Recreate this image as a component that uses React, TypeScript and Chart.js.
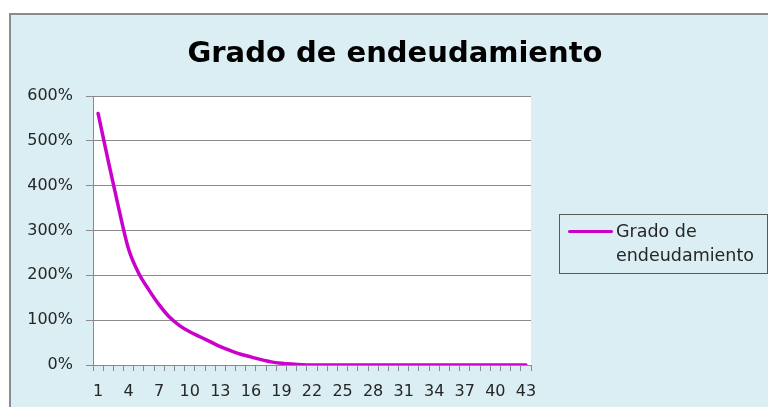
import React, { useEffect, useRef } from 'react';
import { Chart, registerables } from 'chart.js';

Chart.register(...registerables);

const chartTitle = 'Grado de endeudamiento';
const seriesName = 'Grado de endeudamiento';

const categories = [
  '1', '2', '3', '4', '5', '6', '7', '8', '9', '10',
  '11', '12', '13', '14', '15', '16', '17', '18', '19', '20',
  '21', '22', '23', '24', '25', '26', '27', '28', '29', '30',
  '31', '32', '33', '34', '35', '36', '37', '38', '39', '40',
  '41', '42', '43',
];

// percent values
const debtRatio = [
  561, 455, 352, 258, 204, 167, 134, 107, 88, 74,
  63, 52, 41, 32, 24, 18, 12, 7, 4, 2,
  0.5, 0, 0, 0, 0, 0, 0, 0, 0, 0,
  0, 0, 0, 0, 0, 0, 0, 0, 0, 0,
  0, 0, 0,
];

const yMin = 0;
const yMax = 600;
const yStep = 100;
const xLabelEvery = 3;

const LINE_COLOR = '#CC00CC';
const GRID_COLOR = '#8a8a8a';
const TEXT_COLOR = '#262626';
const BG_COLOR = '#DAEEF3';

const whitePlot = {
  id: 'whitePlot',
  beforeDraw(chart: any) {
    const { ctx, chartArea } = chart;
    if (!chartArea) return;
    ctx.save();
    ctx.fillStyle = '#ffffff';
    ctx.fillRect(chartArea.left, chartArea.top, chartArea.right - chartArea.left, chartArea.bottom - chartArea.top);
    ctx.restore();
  },
};

export default function App() {
  const canvasRef = useRef<HTMLCanvasElement | null>(null);

  useEffect(() => {
    const canvas = canvasRef.current;
    if (!canvas) return;
    const chart = new Chart(canvas, {
      type: 'line',
      data: {
        labels: categories,
        datasets: [
          {
            label: seriesName,
            data: debtRatio,
            borderColor: LINE_COLOR,
            backgroundColor: LINE_COLOR,
            borderWidth: 3.5,
            borderCapStyle: 'round',
            borderJoinStyle: 'round',
            pointRadius: 0,
            pointHoverRadius: 0,
            cubicInterpolationMode: 'monotone',
            fill: false,
          },
        ],
      },
      options: {
        responsive: false,
        animation: false,
        devicePixelRatio: 1,
        layout: { padding: { left: 0, top: 96, right: 237, bottom: 0 } },
        plugins: {
          legend: { display: false },
          title: { display: false },
          tooltip: { enabled: false },
        },
        scales: {
          x: {
            type: 'category',
            offset: true,
            afterFit(scale: any) {
              scale.height = 42;
            },
            grid: {
              display: true,
              offset: true,
              drawOnChartArea: false,
              drawTicks: true,
              tickLength: 6,
              color: GRID_COLOR,
            },
            border: { display: true, color: GRID_COLOR, width: 1 },
            ticks: {
              autoSkip: false,
              maxRotation: 0,
              minRotation: 0,
              padding: 11,
              color: TEXT_COLOR,
              font: { family: 'DejaVu Sans', size: 16, lineHeight: 1.2 },
              callback: (_v: any, idx: number) => (idx % xLabelEvery === 0 ? categories[idx] : ''),
            },
          },
          y: {
            min: yMin,
            max: yMax,
            afterFit(scale: any) {
              scale.width = 93;
            },
            grid: {
              color: GRID_COLOR,
              drawTicks: true,
              tickLength: 7,
            },
            border: { display: true, color: GRID_COLOR, width: 1 },
            ticks: {
              stepSize: yStep,
              padding: 13,
              color: TEXT_COLOR,
              font: { family: 'DejaVu Sans', size: 16 },
              callback: (v: any) => `${v}%`,
            },
          },
        },
      },
      plugins: [whitePlot],
    });
    return () => chart.destroy();
  }, []);

  return (
    <div style={{ position: 'fixed', left: 0, top: 0, width: 768, height: 407, overflow: 'hidden', background: '#ffffff' }}>
      <div
        style={{
          position: 'absolute',
          left: 9,
          top: 13,
          width: 800,
          height: 430,
          background: BG_COLOR,
          border: '2px solid #8c8c8c',
          boxSizing: 'border-box',
        }}
      />
      <canvas
        ref={canvasRef}
        width={768}
        height={407}
        style={{ position: 'absolute', left: 0, top: 0, width: 768, height: 407 }}
      />
      <div
        style={{
          position: 'absolute',
          left: 0,
          top: 35,
          width: 790,
          textAlign: 'center',
          fontFamily: '"DejaVu Sans", sans-serif',
          fontWeight: 'bold',
          fontSize: 29,
          lineHeight: '34px',
          color: '#000000',
          whiteSpace: 'nowrap',
        }}
      >
        {chartTitle}
      </div>
      <div
        style={{
          position: 'absolute',
          left: 559,
          top: 214,
          width: 209,
          height: 60,
          border: '1.5px solid #595959',
          boxSizing: 'border-box',
        }}
      >
        <div
          style={{
            position: 'absolute',
            left: 8,
            top: 15,
            width: 45,
            height: 3,
            background: LINE_COLOR,
            borderRadius: 1.5,
          }}
        />
        <div
          style={{
            position: 'absolute',
            left: 56,
            top: 4,
            width: 145,
            fontFamily: '"DejaVu Sans", sans-serif',
            fontSize: 17.5,
            lineHeight: '24px',
            color: TEXT_COLOR,
            whiteSpace: 'normal',
          }}
        >
          {seriesName}
        </div>
      </div>
    </div>
  );
}
